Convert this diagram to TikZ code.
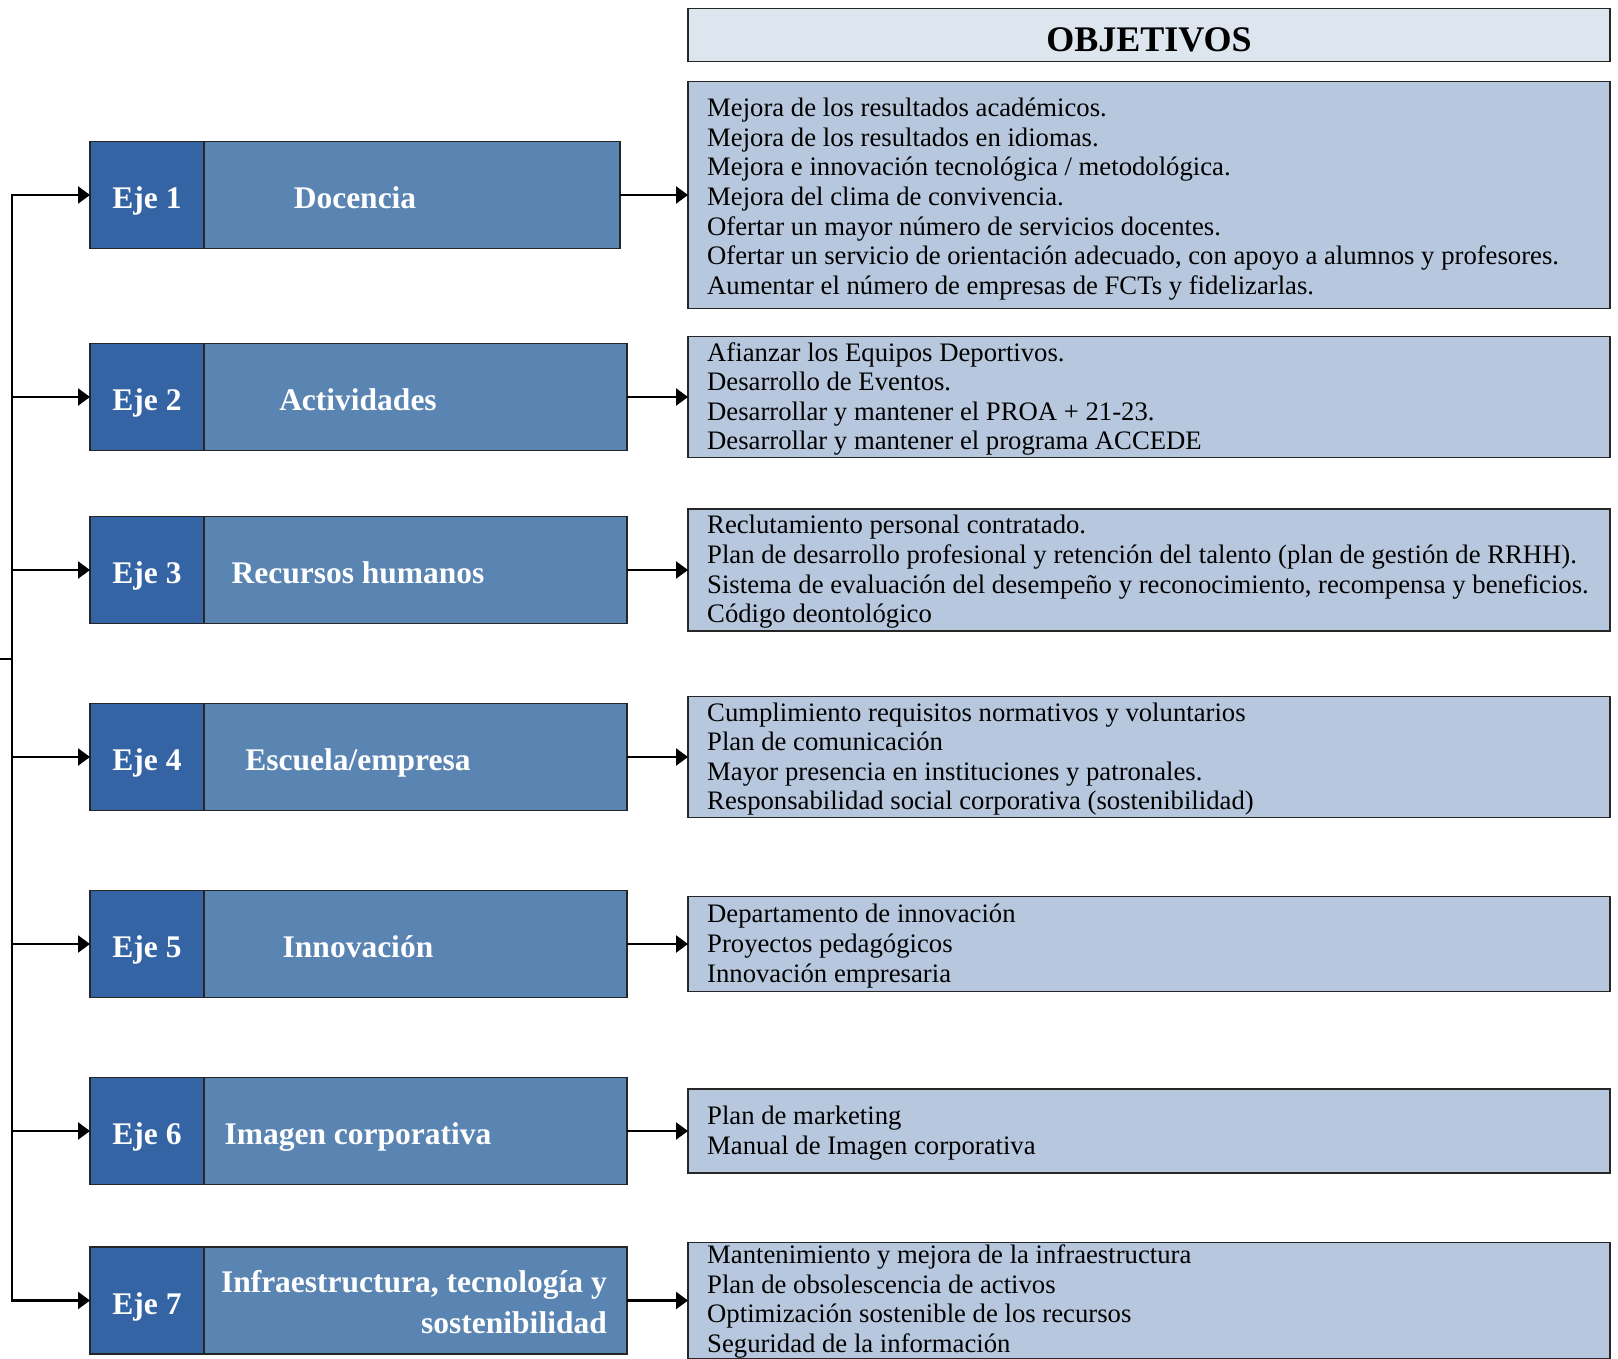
\documentclass[tikz,border=0pt]{standalone}
\usepackage{fontspec}
\setmainfont{Liberation Serif}
\usetikzlibrary{arrows.meta,positioning}
\definecolor{ejedark}{HTML}{3464A4}
\definecolor{ejemid}{HTML}{5A84B2}
\definecolor{objfill}{HTML}{B7C8DE}
\definecolor{headfill}{HTML}{DDE5EF}
\definecolor{edge}{HTML}{262626}
\begin{document}
\begin{tikzpicture}[x=1pt,y=-1pt,
	ejebox/.style={draw=edge,line width=1.3pt,fill=ejedark,text=white,font=\fontsize{31.5}{38}\selectfont\bfseries,minimum width=114pt,minimum height=107pt,text height=27pt,text depth=0pt,inner sep=0pt,outer sep=0pt},
	titbox/.style={draw=edge,line width=1.3pt,fill=ejemid,minimum height=107pt,inner sep=0pt,outer sep=0pt},
	tittext/.style={text=white,font=\fontsize{31.5}{41.4}\selectfont\bfseries,inner sep=0pt},
	titline/.style={tittext,text height=27pt,text depth=0pt},
	objbox/.style={draw=edge,line width=1.3pt,fill=objfill,minimum width=922pt,inner sep=0pt,outer sep=0pt},
	objtext/.style={anchor=west,align=left,font=\fontsize{26.7}{29.6}\selectfont,inner sep=0pt},
	conn/.style={line width=2.3pt,-{Triangle[length=12pt,width=17pt]}}]
	\useasboundingbox (0,0) rectangle (1618,1359);
	\foreach \n/\y/\w in {1/195/416,2/397/423,3/570/423,4/757/423,5/944/423,6/1131/423,7/1300.5/423}{
		\node[ejebox] (eje\n) at (147,\y) {Eje \n};
		\node[titbox,minimum width=\w pt,right=0pt of eje\n] (tit\n) {};
	}
	\node[titline] (tt1) at ([xshift=151pt]tit1.west) {Docencia};
	\node[titline] (tt2) at ([xshift=154pt]tit2.west) {Actividades};
	\node[titline] (tt3) at ([xshift=154pt]tit3.west) {Recursos humanos};
	\node[titline] (tt4) at ([xshift=154pt]tit4.west) {Escuela/empresa};
	\node[titline] (tt5) at ([xshift=154pt]tit5.west) {Innovación};
	\node[titline] (tt6) at ([xshift=154pt]tit6.west) {Imagen corporativa};
	\node[tittext,align=right,anchor=east] (tt7) at ([xshift=-20pt,yshift=-1.5pt]tit7.east) {Infraestructura, tecnología y\\sostenibilidad};
	\node[objbox,minimum height=227pt,right=68pt of tit1] (obj1) {};
	\node[objbox,minimum height=121pt,right=61pt of tit2] (obj2) {};
	\node[objbox,minimum height=122pt,right=61pt of tit3] (obj3) {};
	\node[objbox,minimum height=121pt,right=61pt of tit4] (obj4) {};
	\node[objbox,minimum height=95pt,right=61pt of tit5] (obj5) {};
	\node[objbox,minimum height=84pt,right=61pt of tit6] (obj6) {};
	\node[objbox,minimum height=116pt,right=61pt of tit7] (obj7) {};
	\node[objbox,fill=headfill,minimum height=53pt,text height=33pt,above=20pt of obj1,font=\fontsize{36}{43}\selectfont\bfseries] (head) {OBJETIVOS};
	\node[objtext] (txt1) at ([xshift=19pt,yshift=-4pt]obj1.west) {Mejora de los resultados académicos.\\Mejora de los resultados en idiomas.\\Mejora e innovación tecnológica / metodológica.\\Mejora del clima de convivencia.\\Ofertar un mayor número de servicios docentes.\\Ofertar un servicio de orientación adecuado, con apoyo a alumnos y profesores.\\Aumentar el número de empresas de FCTs y fidelizarlas.};
	\node[objtext] (txt2) at ([xshift=19pt,yshift=-2pt]obj2.west) {Afianzar los Equipos Deportivos.\\Desarrollo de Eventos.\\Desarrollar y mantener el PROA + 21-23.\\Desarrollar y mantener el programa ACCEDE};
	\node[objtext] (txt3) at ([xshift=19pt,yshift=-2pt]obj3.west) {Reclutamiento personal contratado.\\Plan de desarrollo profesional y retención del talento (plan de gestión de RRHH).\\Sistema de evaluación del desempeño y reconocimiento, recompensa y beneficios.\\Código deontológico};
	\node[objtext] (txt4) at ([xshift=19pt,yshift=-2pt]obj4.west) {Cumplimiento requisitos normativos y voluntarios\\Plan de comunicación\\Mayor presencia en instituciones y patronales.\\Responsabilidad social corporativa (sostenibilidad)};
	\node[objtext] (txt5) at ([xshift=19pt,yshift=-2pt]obj5.west) {Departamento de innovación\\Proyectos pedagógicos\\Innovación empresaria};
	\node[objtext] (txt6) at ([xshift=19pt,yshift=-2pt]obj6.west) {Plan de marketing\\Manual de Imagen corporativa};
	\node[objtext] (txt7) at ([xshift=19pt,yshift=-1pt]obj7.west) {Mantenimiento y mejora de la infraestructura\\Plan de obsolescencia de activos\\Optimización sostenible de los recursos\\Seguridad de la información};
	\coordinate (sp) at (11.7,659);
	\coordinate (stub) at (0,659);
	\draw[line width=2.3pt] (sp) -- (stub);
	\draw[conn] (sp) |- (eje1.west);
	\draw[conn] (sp) |- (eje7.west);
	\foreach \n in {2,...,6}{
		\draw[conn] (sp |- eje\n.west) -- (eje\n.west);
	}
	\foreach \n in {1,...,7}{
		\draw[conn] (tit\n.east) -- (obj\n.west);
	}
\end{tikzpicture}
\end{document}
